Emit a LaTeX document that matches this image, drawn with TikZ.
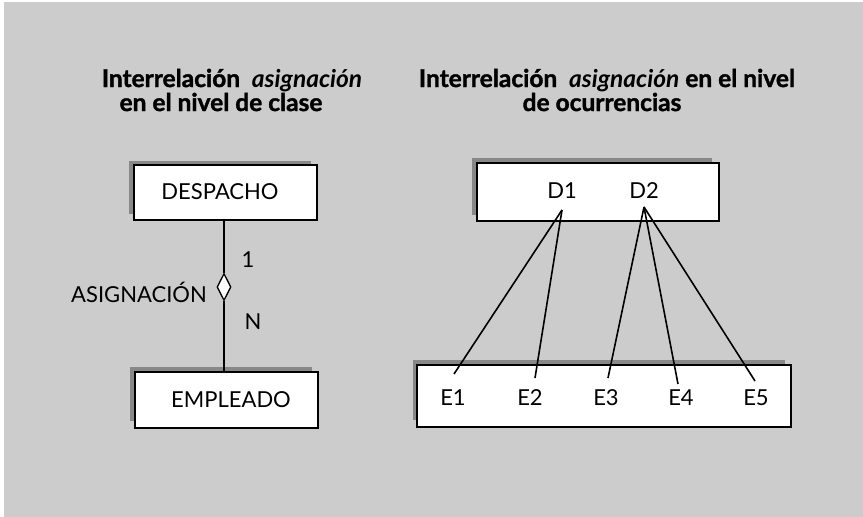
\documentclass[tikz,border=0pt]{standalone}
\usepackage{fontspec}
\setmainfont{Lato}
\newfontfamily\titlefont{Lato}[BoldFeatures={FakeBold=1.5}]
\usetikzlibrary{shapes.geometric}
\definecolor{bg}{HTML}{CCCCCC}
\definecolor{shade}{HTML}{888888}
\tikzset{
  title/.style={font=\titlefont\fontsize{24.5}{25}\selectfont\bfseries, anchor=base, inner sep=0pt},
  lbl/.style={font=\fontsize{22}{24}\selectfont, inner sep=0pt},
  ent/.style={draw=black, line width=1.6pt, fill=white},
  shadowbox/.style={fill=shade},
  conn/.style={line width=1.6pt, black},
}
\begin{document}
\begin{tikzpicture}[x=1pt,y=-1pt]
\useasboundingbox (0,0) rectangle (863,517);
\fill[white] (0,0) rectangle (863,517);
\fill[bg] (4,2) rectangle (863,517);
% titles
\node[title] (t1a) at (232,87) {Interrelación\ \ \textit{asignación}};
\node[title] (t1b) at (221,111) {en el nivel de clase};
\node[title] (t2a) at (607,87) {Interrelación\ \ \textit{asignación} en el nivel};
\node[title] (t2b) at (602,111) {de ocurrencias};
% DESPACHO
\fill[shadowbox] (129,161) rectangle (311,214);
\node[ent, minimum width=183pt, minimum height=55pt, inner sep=0pt] (desp) at (225.5,192.5) {};
\node[lbl] (despt) at (220,192) {DESPACHO};
% EMPLEADO
\fill[shadowbox] (130,367) rectangle (312,421);
\node[ent, minimum width=183pt, minimum height=56pt, inner sep=0pt] (empl) at (226.5,400) {};
\node[lbl] (emplt) at (231,400) {EMPLEADO};
% relationship
\node[draw=black, fill=white, line width=1.3pt, diamond, minimum width=14pt, minimum height=27pt, inner sep=0pt] (rel) at (224,287) {};
\draw[conn] (desp.south -| rel.north) -- (rel.north);
\draw[conn] (rel.south) -- (empl.north -| rel.south);
\node[lbl, anchor=east] (relt) at (207,292) {ASIGNACIÓN};
\node[lbl] (c1) at (248,260) {1};
\node[lbl] (cn) at (253,322) {N};
% D box
\fill[shadowbox] (472,158) rectangle (712,215);
\node[ent, minimum width=242pt, minimum height=58pt, inner sep=0pt] (dbox) at (598,192) {};
\node[lbl] (d1) at (562,191) {D1};
\node[lbl] (d2) at (644,191) {D2};
% E box
\fill[shadowbox] (413,360) rectangle (785,420);
\node[ent, minimum width=374pt, minimum height=62pt, inner sep=0pt] (ebox) at (604,396) {};
\node[lbl] (e1) at (453,398) {E1};
\node[lbl] (e2) at (530,398) {E2};
\node[lbl] (e3) at (606,398) {E3};
\node[lbl] (e4) at (681,398) {E4};
\node[lbl] (e5) at (756,398) {E5};
% connector ends
\coordinate (d1a) at (562,210);
\coordinate (d2a) at (644,207);
\coordinate (e1a) at (454,374);
\coordinate (e2a) at (535,378);
\coordinate (e3a) at (608,378);
\coordinate (e4a) at (678,384);
\coordinate (e5a) at (755,381);
\draw[conn] (d1a) -- (e1a);
\draw[conn] (d1a) -- (e2a);
\draw[conn] (d2a) -- (e3a);
\draw[conn] (d2a) -- (e4a);
\draw[conn] (d2a) -- (e5a);
\end{tikzpicture}
\end{document}
